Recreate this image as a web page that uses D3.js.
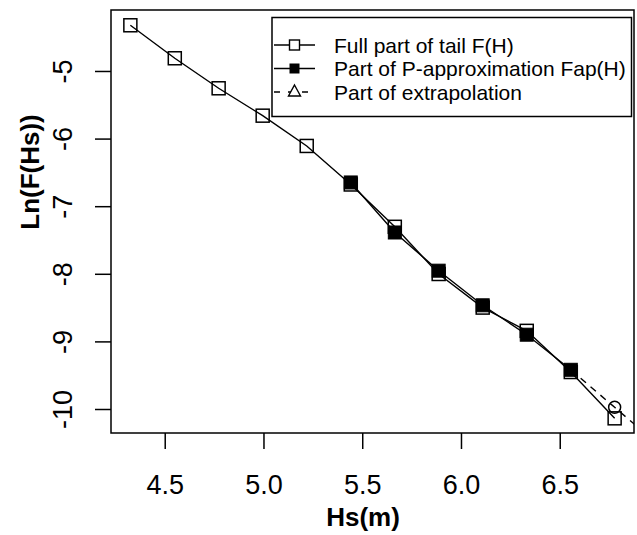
<!DOCTYPE html>
<html>
<head>
<meta charset="utf-8">
<script src="https://cdn.jsdelivr.net/npm/d3@7"></script>
<style>
  body { margin: 0; background: #fff; }
  svg text { font-family: "Liberation Sans", Arial, sans-serif; fill: #000; }
</style>
</head>
<body>
<div id="chart"></div>
<script>
// Full part of tail F(H)
const hsFull = [4.326, 4.551, 4.773, 4.996, 5.219, 5.442, 5.665, 5.887, 6.110, 6.333, 6.556, 6.778];
const lnFull = [-4.324, -4.812, -5.256, -5.661, -6.109, -6.679, -7.305, -8.003, -8.500, -8.844, -9.453, -10.138];
// Part of P-approximation Fap(H)
const hsAp = [5.442, 5.665, 5.887, 6.110, 6.333, 6.556];
const lnAp = [-6.649, -7.389, -7.954, -8.466, -8.901, -9.420];
// Part of extrapolation
const hsExt = [6.556, 6.778, 7.000];
const lnExt = [-9.420, -9.975, -10.530];

const xTicks = [4.5, 5.0, 5.5, 6.0, 6.5];
const yTicks = [-5, -6, -7, -8, -9, -10];
const legendLabels = ["Full part of tail F(H)", "Part of P-approximation Fap(H)", "Part of extrapolation"];

const W = 637, H = 535;
const plot = { left: 111, right: 634, top: 10, bottom: 433 };

const svg = d3.select("#chart").append("svg")
    .attr("width", W)
    .attr("height", H);

const x = d3.scaleLinear().domain([4.228, 6.876]).range([plot.left, plot.right]);
const y = d3.scaleLinear().domain([-10.355, -4.098]).range([plot.bottom, plot.top]);

svg.append("clipPath").attr("id", "clip")
  .append("rect")
    .attr("x", plot.left).attr("y", plot.top)
    .attr("width", plot.right - plot.left).attr("height", plot.bottom - plot.top);

// axes
const xAxis = svg.append("g")
    .attr("transform", `translate(0,${plot.bottom})`)
    .call(d3.axisBottom(x).tickValues(xTicks).tickFormat(d3.format(".1f")).tickSize(16).tickPadding(26));
xAxis.select(".domain").remove();
xAxis.selectAll("line").attr("stroke", "#000").attr("stroke-width", 1.5);
xAxis.selectAll("text").attr("font-size", 27).attr("font-family", "Liberation Sans, Arial, sans-serif");

const yAxis = svg.append("g")
    .attr("transform", `translate(${plot.left},0)`)
    .call(d3.axisLeft(y).tickValues(yTicks).tickFormat(d3.format("d")).tickSize(16));
yAxis.select(".domain").remove();
yAxis.selectAll("line").attr("stroke", "#000").attr("stroke-width", 1.5);
yAxis.selectAll("text")
    .attr("font-size", 27)
    .attr("font-family", "Liberation Sans, Arial, sans-serif")
    .attr("transform", "rotate(-90)")
    .attr("x", 0)
    .attr("y", -39)
    .attr("dy", 0)
    .attr("text-anchor", "middle")
    .text(d => d3.format("d")(d).replace("−", "-"));

// axis titles
svg.append("text")
    .attr("x", 363)
    .attr("y", 526)
    .attr("text-anchor", "middle")
    .attr("font-size", 26)
    .attr("font-weight", "bold")
    .text("Hs(m)");

svg.append("text")
    .attr("transform", "translate(39,172) rotate(-90)")
    .attr("text-anchor", "middle")
    .attr("font-size", 26)
    .attr("font-weight", "bold")
    .text("Ln(F(Hs))");

// series
const line = d3.line().x(d => x(d[0])).y(d => y(d[1]));
const full = hsFull.map((h, i) => [h, lnFull[i]]);
const ap = hsAp.map((h, i) => [h, lnAp[i]]);
const ext = hsExt.map((h, i) => [h, lnExt[i]]);

const g = svg.append("g").attr("clip-path", "url(#clip)");

g.append("path").datum(full)
    .attr("d", line).attr("fill", "none").attr("stroke", "#000").attr("stroke-width", 1.4);
g.selectAll(".sq").data(full).join("rect")
    .attr("class", "sq")
    .attr("x", d => x(d[0]) - 6.5).attr("y", d => y(d[1]) - 6.5)
    .attr("width", 13).attr("height", 13)
    .attr("fill", "none").attr("stroke", "#000").attr("stroke-width", 1.5);

g.append("path").datum(ext)
    .attr("d", line).attr("fill", "none").attr("stroke", "#000").attr("stroke-width", 1.4)
    .attr("stroke-dasharray", "7,6");
g.selectAll(".ci").data(ext.slice(1, 2)).join("circle")
    .attr("class", "ci")
    .attr("cx", d => x(d[0])).attr("cy", d => y(d[1])).attr("r", 6)
    .attr("fill", "none").attr("stroke", "#000").attr("stroke-width", 1.5);

g.append("path").datum(ap)
    .attr("d", line).attr("fill", "none").attr("stroke", "#000").attr("stroke-width", 1.4);
g.selectAll(".fs").data(ap).join("rect")
    .attr("class", "fs")
    .attr("x", d => x(d[0]) - 6.5).attr("y", d => y(d[1]) - 6.5)
    .attr("width", 13).attr("height", 13)
    .attr("fill", "#000").attr("stroke", "#000").attr("stroke-width", 1);

// plot box
svg.append("rect")
    .attr("x", plot.left).attr("y", plot.top)
    .attr("width", plot.right - plot.left).attr("height", plot.bottom - plot.top)
    .attr("fill", "none").attr("stroke", "#000").attr("stroke-width", 1.5);

// legend
const lg = svg.append("g");
lg.append("rect")
    .attr("x", 272).attr("y", 17.5).attr("width", 359.5).attr("height", 99)
    .attr("fill", "#fff").attr("stroke", "#000").attr("stroke-width", 1.5);

const rowY = [45, 68.5, 92];
legendLabels.forEach((lab, i) => {
    const ry = rowY[i];
    lg.append("line")
        .attr("x1", 274).attr("x2", 315).attr("y1", ry).attr("y2", ry)
        .attr("stroke", "#000").attr("stroke-width", 1.4)
        .attr("stroke-dasharray", i === 2 ? "6,8" : null);
    if (i === 0) {
        lg.append("rect").attr("x", 289.5).attr("y", ry - 5).attr("width", 10).attr("height", 10)
            .attr("fill", "#fff").attr("stroke", "#000").attr("stroke-width", 1.4);
    } else if (i === 1) {
        lg.append("rect").attr("x", 289.5).attr("y", ry - 5).attr("width", 10).attr("height", 10)
            .attr("fill", "#000");
    } else {
        lg.append("path")
            .attr("d", `M${294.5},${ry - 7}L${300.5},${ry + 4}L${288.5},${ry + 4}Z`)
            .attr("fill", "#fff").attr("stroke", "#000").attr("stroke-width", 1.4);
    }
    lg.append("text")
        .attr("x", 334).attr("y", ry + 7.5)
        .attr("font-size", 21)
        .text(lab);
});
</script>
</body>
</html>
